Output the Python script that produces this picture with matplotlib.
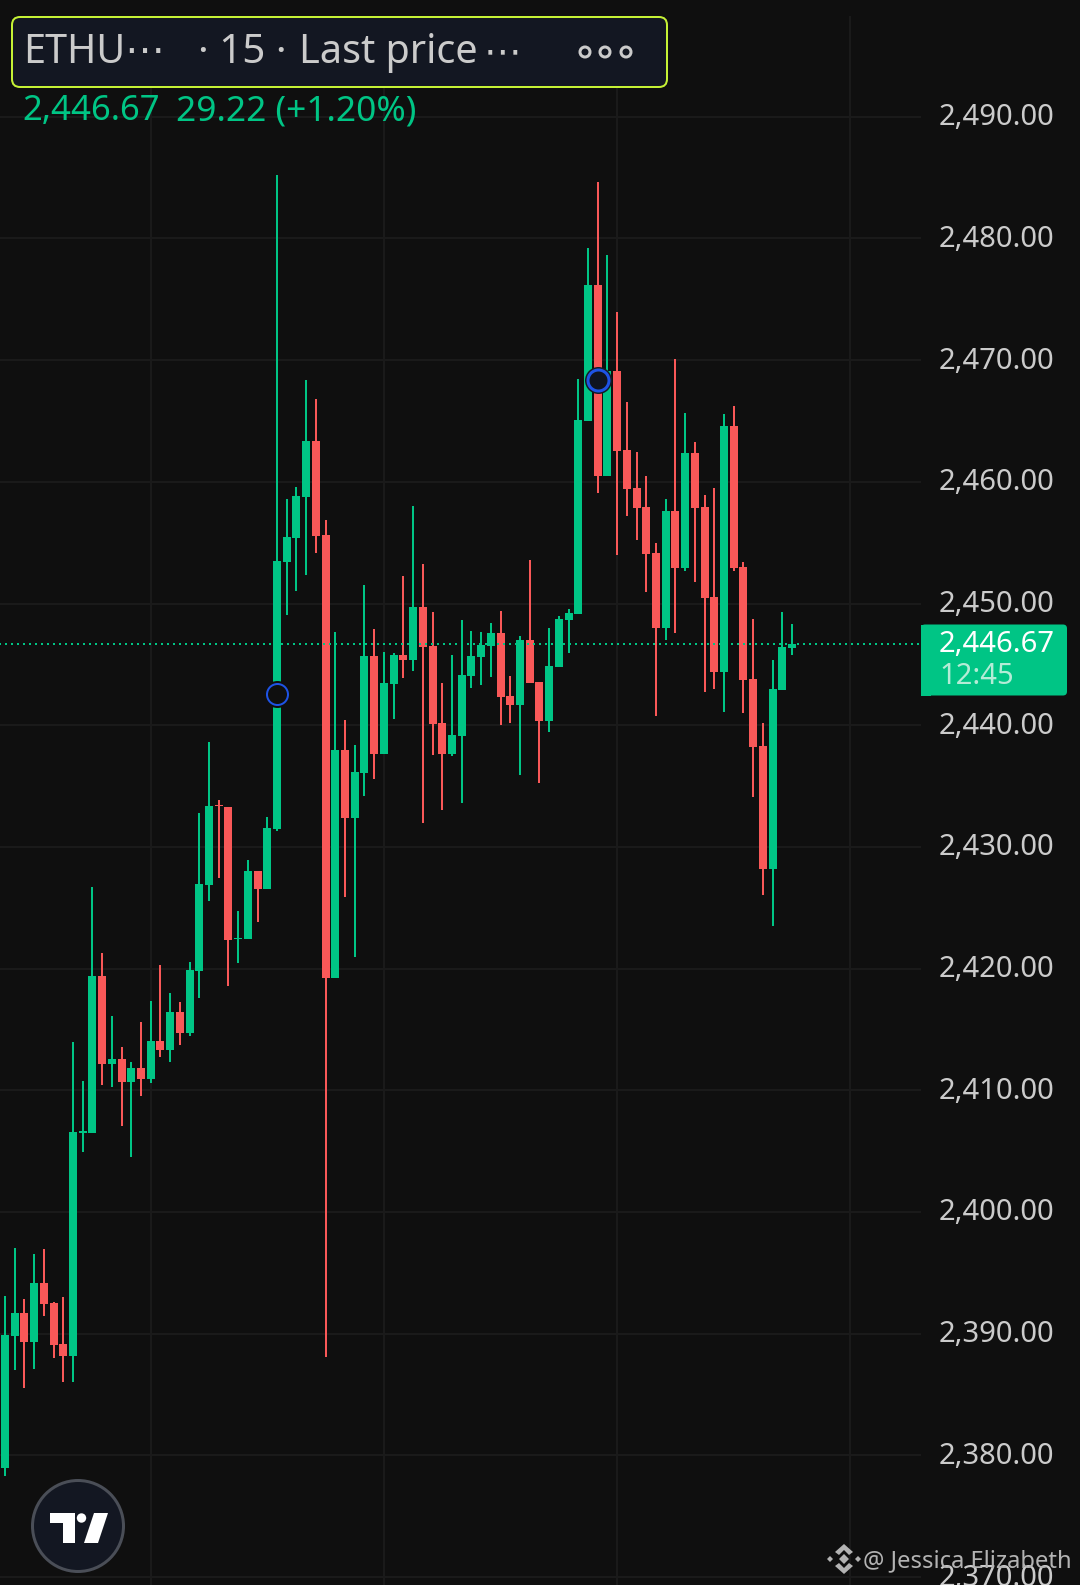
import matplotlib
matplotlib.use("Agg")
import matplotlib.pyplot as plt
from matplotlib.patches import FancyBboxPatch, Circle, Polygon, Rectangle

# OHLC, 15 minute candles
opens = [2379.00,2389.81,2391.70,2389.32,2394.17,2392.52,2389.15,2388.17,2406.53,2406.53,
         2419.39,2412.16,2412.57,2410.68,2411.83,2410.93,2414.05,2413.31,2416.43,2414.71,
         2419.80,2426.87,2433.44,2433.28,2422.43,2422.43,2428.02,2426.54,2431.47,2453.41,
         2455.38,2458.75,2463.35,2455.63,2419.23,2437.96,2432.37,2436.07,2445.69,2437.63,
         2443.39,2445.77,2445.36,2449.71,2446.51,2440.18,2437.63,2439.11,2444.04,2445.60,
         2446.51,2447.58,2442.40,2441.66,2447.00,2443.55,2440.35,2444.78,2448.64,2449.14,
         2465.00,2476.17,2460.48,2469.10,2462.61,2459.49,2457.93,2454.15,2447.99,2457.60,
         2452.92,2462.37,2457.93,2450.53,2444.37,2464.59,2453.00,2443.80,2438.29,2428.18,
         2442.89,2446.34]
highs = [2393.10,2397.04,2392.85,2396.55,2396.96,2392.60,2393.02,2413.97,2410.76,2426.71,
         2421.28,2416.11,2413.56,2412.33,2415.61,2417.34,2420.30,2418.00,2417.26,2420.54,
         2432.79,2438.62,2433.85,2433.28,2424.73,2428.92,2428.02,2432.46,2485.21,2458.59,
         2459.57,2468.37,2466.80,2456.86,2447.66,2440.43,2438.37,2451.52,2447.91,2446.02,
         2445.93,2452.26,2458.01,2453.25,2449.30,2443.47,2445.77,2448.64,2447.74,2447.66,
         2448.40,2449.38,2444.04,2447.33,2453.57,2443.55,2447.99,2448.97,2449.55,2468.45,
         2479.21,2484.64,2478.64,2473.95,2466.56,2462.45,2460.48,2454.97,2458.59,2470.09,
         2465.65,2463.27,2458.92,2459.49,2465.57,2466.23,2453.41,2448.73,2440.18,2445.36,
         2449.30,2448.32]
lows = [2378.33,2387.02,2385.54,2387.10,2391.45,2388.00,2386.03,2386.03,2404.93,2406.53,
        2410.44,2410.27,2407.07,2404.52,2409.53,2410.60,2412.74,2412.33,2413.72,2414.46,
        2417.58,2425.55,2427.44,2418.57,2420.46,2422.43,2423.83,2426.54,2431.31,2449.06,
        2451.03,2452.34,2454.15,2388.09,2419.23,2425.88,2420.95,2434.18,2435.58,2437.63,
        2440.51,2443.88,2444.45,2431.96,2437.55,2433.03,2437.47,2433.61,2443.06,2443.30,
        2443.96,2440.02,2440.18,2435.91,2443.47,2435.25,2439.44,2444.78,2445.93,2449.14,
        2465.00,2459.08,2460.48,2453.99,2457.19,2455.22,2450.95,2440.76,2447.00,2447.58,
        2452.67,2451.77,2442.73,2442.97,2441.09,2452.67,2441.00,2434.10,2426.05,2423.50,
        2442.89,2445.77]
closes = [2389.89,2391.70,2389.32,2394.17,2392.44,2389.07,2388.17,2406.57,2406.66,2419.39,
          2412.16,2412.57,2410.68,2411.83,2410.93,2414.05,2413.31,2416.43,2414.71,2419.89,
          2426.95,2433.36,2433.36,2422.35,2422.51,2428.02,2426.54,2431.55,2453.49,2455.46,
          2458.83,2463.35,2455.55,2419.23,2437.96,2432.37,2436.15,2445.69,2437.63,2443.47,
          2445.77,2445.36,2449.71,2446.43,2440.10,2437.63,2439.20,2444.13,2445.69,2446.59,
          2447.58,2442.32,2441.66,2447.00,2443.47,2440.35,2444.86,2448.73,2449.22,2465.08,
          2476.17,2460.48,2469.10,2462.53,2459.41,2457.85,2454.07,2447.99,2457.60,2452.92,
          2462.37,2457.85,2450.45,2444.37,2464.59,2452.92,2443.71,2438.21,2428.18,2442.98,
          2446.43,2446.67]

price_ticks = [2490,2480,2470,2460,2450,2440,2430,2420,2410,2400,2390,2380,2370]
time_ticks = [15,39,63,87]
marker_idx = [28,61]
marker_price = [2442.56,2468.37]
last_price = 2446.67
countdown = "12:45"
symbol = "ETHU\u22ef"
interval = "\u00b7 15 \u00b7"
source = "Last price"
more = "\u22ef"
change = "29.22 (+1.20%)"
watermark = "@ Jessica Elizabeth"

BG = "#0f0f0f"
GRID = "#1a1a1a"
GREEN = "#00c585"
RED = "#f95858"
TXT = "#cbcbcb"
W, H = 1080, 1585
PX = 0.72  # one pixel in points at dpi 100
STEP = 9.716  # pixels per candle
X0 = 5
fonts = ["Noto Sans", "DejaVu Sans"]

fig = plt.figure(figsize=(W/100, H/100), dpi=100, facecolor=BG)
ax = fig.add_axes([0, 0, 1, 1], facecolor=BG)
ax.set_xlim(-X0/STEP, (W-X0)/STEP)
ax.set_ylim(2369.35, 2499.59)
ax.axis("off")

# grid stops where the price scale starts
for p in price_ticks:
    ax.plot([-1, (921-X0)/STEP], [p, p], color=GRID, lw=2*PX, solid_capstyle="butt", zorder=1)
for t in time_ticks:
    ax.plot([t, t], [2369.35, 2499.59-16*0.08217], color=GRID, lw=2*PX, solid_capstyle="butt", zorder=1)

for i in range(len(opens)):
    col = GREEN if closes[i] >= opens[i] else RED
    ax.plot([i, i], [lows[i], highs[i]], color=col, lw=2*PX, solid_capstyle="butt", zorder=2)
    bottom = min(opens[i], closes[i])
    ax.bar(i, abs(closes[i]-opens[i]), bottom=bottom, width=8/STEP, color=col, lw=0, zorder=3)

ax.plot([-1, (921-X0)/STEP], [last_price, last_price], color=GREEN, lw=2*PX,
        dashes=(1, 2), zorder=4)

ax.scatter(marker_idx[0], marker_price[0], s=(27*PX)**2, color=BG, lw=0, zorder=5)
ax.scatter(marker_idx[0], marker_price[0], s=(21*PX)**2, facecolor=BG, edgecolor="#1e53e5", lw=2*PX, zorder=6)
ax.scatter(marker_idx[1], marker_price[1], s=(27*PX)**2, color="#141a24", lw=0, zorder=5)
ax.scatter(marker_idx[1], marker_price[1], s=(21*PX)**2, facecolor="#0f1420", edgecolor="#1e53e5", lw=3*PX, zorder=6)

for p in price_ticks:
    ax.annotate(f"{p:,.2f}", (939/W, p), xycoords=("figure fraction", "data"),
                xytext=(0, -8.5*PX), textcoords="offset points", va="baseline", color=TXT,
                fontsize=21, family=fonts, annotation_clip=False, zorder=7)

# everything else is placed in screen pixels
ov = fig.add_axes([0, 0, 1, 1])
ov.set_xlim(0, W)
ov.set_ylim(H, 0)
ov.axis("off")
ov.patch.set_alpha(0)

# last price tag
ov.add_patch(FancyBboxPatch((921, 624.5), 146, 71, boxstyle="round,pad=0,rounding_size=4",
                            fc=GREEN, ec="none", zorder=3))
ov.add_patch(Rectangle((921, 624.5), 10, 71, fc=GREEN, ec="none", zorder=3))
ov.text(939, 652, f"{last_price:,.2f}", color="white", fontsize=21, family=fonts, va="baseline", zorder=4)
ov.text(939, 684, countdown, color="#b4ecd6", fontsize=21, family=fonts, va="baseline", zorder=4)

# header box
ov.add_patch(FancyBboxPatch((12, 17), 655, 70, boxstyle="round,pad=0,rounding_size=8",
                            fc="#131722", ec="#c5f135", lw=2*PX, zorder=3))
ov.text(23, 63, symbol, color=TXT, fontsize=28.5, family=fonts, va="baseline", zorder=4)
ov.text(198, 63, interval, color=TXT, fontsize=29, family=fonts, va="baseline", zorder=4)
ov.text(299, 63, source, color=TXT, fontsize=28.5, family=fonts, va="baseline", zorder=4)
ov.text(484, 63, more, color=TXT, fontsize=27, family=fonts, va="baseline", zorder=4)
for x in (585, 605, 626):
    ov.add_patch(Circle((x, 52), 5, fc="none", ec=TXT, lw=3*PX, zorder=4))

ov.text(22, 120, f"{last_price:,.2f}", color=GREEN, fontsize=25, family=fonts, va="baseline", zorder=4)
ov.text(176, 120, change, color=GREEN, fontsize=25.4, family=fonts, va="baseline", zorder=4)

# tradingview logo
ov.add_patch(Circle((78, 1526), 45.5, fc="#131722", ec="#4a4e57", lw=3*PX, zorder=3))
ov.add_patch(Polygon([(50, 1513), (75, 1513), (75, 1543), (63, 1543), (63, 1523), (50, 1523)],
                     fc="white", ec="none", zorder=4))
ov.add_patch(Circle((81.5, 1518), 4.7, fc="white", ec="none", zorder=4))
ov.add_patch(Polygon([(94, 1513), (108, 1513), (98, 1543), (84, 1543)], fc="white", ec="none", zorder=4))

# watermark, sits on top of the last tick label
wm = "#b3b3b3"
ov.text(863, 1567, watermark, color=wm, fontsize=17.1, family=fonts, va="baseline", zorder=6)
cx, cy = 844, 1559
for sy in (-1, 1):
    ov.add_patch(Polygon([(cx-9, cy+sy*7), (cx, cy+sy*15), (cx+9, cy+sy*7), (cx+5, cy+sy*4),
                          (cx, cy+sy*9), (cx-5, cy+sy*4)], fc=wm, ec="none", zorder=6))
for sx in (-1, 1):
    ov.add_patch(Polygon([(cx+sx*14, cy-3), (cx+sx*11, cy), (cx+sx*14, cy+3), (cx+sx*17, cy)],
                         fc=wm, ec="none", zorder=6))
ov.add_patch(Polygon([(cx, cy-5), (cx+5, cy), (cx, cy+5), (cx-5, cy)], fc=wm, ec="none", zorder=6))

fig.savefig("out.png", dpi=100, facecolor=BG)
